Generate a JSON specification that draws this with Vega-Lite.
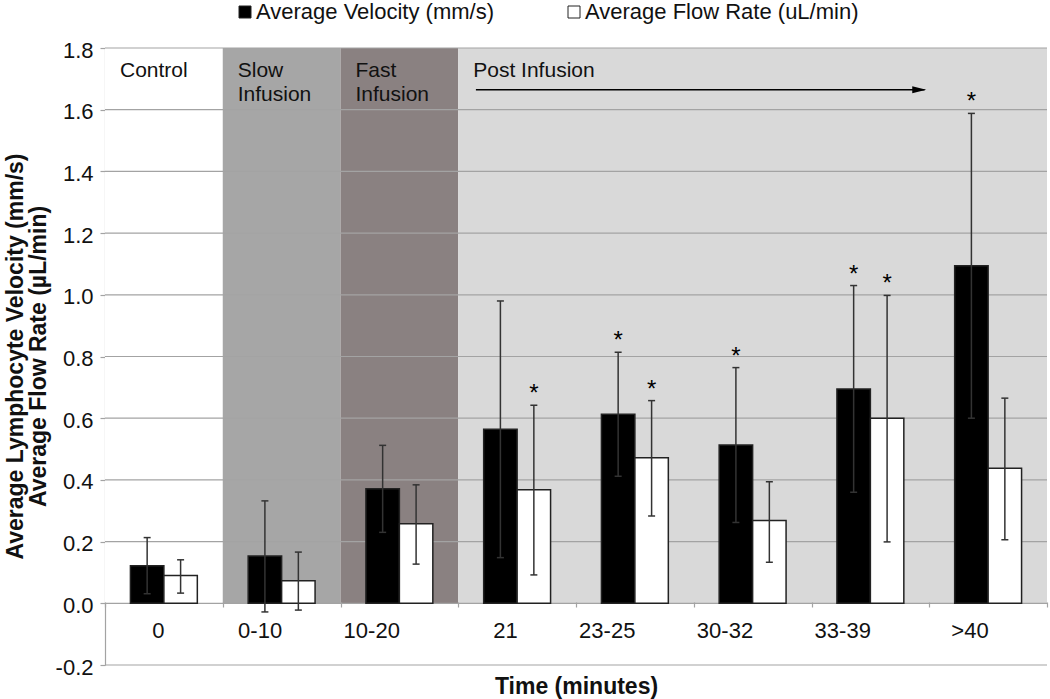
{
  "$schema": "https://vega.github.io/schema/vega-lite/v6.json",
  "width": 942,
  "height": 617,
  "autosize": {"type": "none"},
  "padding": {"left": 105, "top": 48, "right": 3, "bottom": 34},
  "background": "white",
  "config": {
    "font": "Liberation Sans",
    "view": {"stroke": null},
    "axis": {"labelColor": "#111111", "titleColor": "#111111"}
  },
  "datasets": {
    "bars": [
      {"time": "0", "series": "Average Velocity (mm/s)", "mean": 0.122, "lower": 0.031, "upper": 0.213, "star": 0},
      {"time": "0", "series": "Average Flow Rate (uL/min)", "mean": 0.090, "lower": 0.033, "upper": 0.141, "star": 0},
      {"time": "0-10", "series": "Average Velocity (mm/s)", "mean": 0.153, "lower": -0.028, "upper": 0.332, "star": 0},
      {"time": "0-10", "series": "Average Flow Rate (uL/min)", "mean": 0.073, "lower": -0.022, "upper": 0.166, "star": 0},
      {"time": "10-20", "series": "Average Velocity (mm/s)", "mean": 0.371, "lower": 0.230, "upper": 0.512, "star": 0},
      {"time": "10-20", "series": "Average Flow Rate (uL/min)", "mean": 0.258, "lower": 0.127, "upper": 0.384, "star": 0},
      {"time": "21", "series": "Average Velocity (mm/s)", "mean": 0.564, "lower": 0.148, "upper": 0.980, "star": 0},
      {"time": "21", "series": "Average Flow Rate (uL/min)", "mean": 0.368, "lower": 0.092, "upper": 0.642, "star": 1},
      {"time": "23-25", "series": "Average Velocity (mm/s)", "mean": 0.613, "lower": 0.412, "upper": 0.814, "star": 1},
      {"time": "23-25", "series": "Average Flow Rate (uL/min)", "mean": 0.472, "lower": 0.283, "upper": 0.657, "star": 1},
      {"time": "30-32", "series": "Average Velocity (mm/s)", "mean": 0.513, "lower": 0.262, "upper": 0.764, "star": 1},
      {"time": "30-32", "series": "Average Flow Rate (uL/min)", "mean": 0.268, "lower": 0.133, "upper": 0.394, "star": 0},
      {"time": "33-39", "series": "Average Velocity (mm/s)", "mean": 0.695, "lower": 0.360, "upper": 1.030, "star": 1},
      {"time": "33-39", "series": "Average Flow Rate (uL/min)", "mean": 0.600, "lower": 0.199, "upper": 0.998, "star": 1},
      {"time": ">40", "series": "Average Velocity (mm/s)", "mean": 1.094, "lower": 0.600, "upper": 1.588, "star": 1},
      {"time": ">40", "series": "Average Flow Rate (uL/min)", "mean": 0.438, "lower": 0.206, "upper": 0.665, "star": 0}
    ],
    "phases": [
      {"start": "0", "end": "0", "phase": "Control"},
      {"start": "0-10", "end": "0-10", "phase": "Slow Infusion"},
      {"start": "10-20", "end": "10-20", "phase": "Fast Infusion"},
      {"start": "21", "end": ">40", "phase": "Post Infusion"}
    ],
    "labels": [
      {"time": "0", "label": ["Control"]},
      {"time": "0-10", "label": ["Slow", "Infusion"]},
      {"time": "10-20", "label": ["Fast", "Infusion"]},
      {"time": "21", "label": ["Post Infusion"]}
    ],
    "grid": [
      {"v": -0.2}, {"v": 0.0}, {"v": 0.2}, {"v": 0.4}, {"v": 0.6}, {"v": 0.8},
      {"v": 1.0}, {"v": 1.2}, {"v": 1.4}, {"v": 1.6}, {"v": 1.8}
    ],
    "arrow": [
      {"start": "21", "end": "33-39", "y": 1.665}
    ]
  },
  "layer": [
    {
      "data": {"name": "phases"},
      "mark": {"type": "rect"},
      "encoding": {
        "x": {"field": "start", "type": "nominal", "bandPosition": 0, "scale": {"domain": ["0", "0-10", "10-20", "21", "23-25", "30-32", "33-39", ">40"], "paddingInner": 0, "paddingOuter": 0}},
        "x2": {"field": "end", "bandPosition": 1},
        "y": {"datum": 1.8, "type": "quantitative", "scale": {"domain": [-0.2, 1.8], "nice": false, "zero": false}},
        "y2": {"datum": 0},
        "color": {"field": "phase", "type": "nominal", "scale": {"domain": ["Control", "Slow Infusion", "Fast Infusion", "Post Infusion"], "range": ["#ffffff", "#a6a6a6", "#8a8181", "#d9d9d9"]}, "legend": null}
      }
    },
    {
      "data": {"name": "grid"},
      "mark": {"type": "rule", "color": "#a3a3a3", "strokeWidth": 1.2},
      "encoding": {
        "y": {
          "field": "v", "type": "quantitative",
          "scale": {"domain": [-0.2, 1.8], "nice": false, "zero": false},
          "axis": {
            "title": ["Average Lymphocyte Velocity (mm/s)", "Average Flow Rate (µL/min)"],
            "values": [-0.2, 0, 0.2, 0.4, 0.6, 0.8, 1.0, 1.2, 1.4, 1.6, 1.8],
            "format": ".1f",
            "labelExpr": "replace(datum.label, '\u2212', '-')",
            "grid": false,
            "domainColor": "#a3a3a3",
            "domainWidth": 1.2,
            "tickColor": "#a3a3a3",
            "tickSize": 5,
            "tickWidth": 1.2,
            "labelFontSize": 22,
            "labelPadding": 7,
            "labelOffset": 2,
            "titleFontSize": 23,
            "titleFontWeight": "bold",
            "titleAngle": -90,
            "titleAlign": "center",
            "titleBaseline": "alphabetic",
            "titleLineHeight": 23,
            "titleX": -83,
            "titleY": 308
          }
        }
      }
    },
    {
      "data": {"name": "labels"},
      "mark": {"type": "text", "align": "left", "baseline": "top", "dx": 15, "dy": 12, "fontSize": 21, "lineHeight": 24, "color": "#111111"},
      "encoding": {
        "x": {"field": "time", "type": "nominal", "bandPosition": 0},
        "y": {"datum": 1.8, "type": "quantitative"},
        "text": {"field": "label"}
      }
    },
    {
      "data": {"name": "arrow"},
      "mark": {"type": "rule", "color": "#000000", "strokeWidth": 1.5},
      "encoding": {
        "x": {"field": "start", "type": "nominal", "bandPosition": 0.15},
        "x2": {"field": "end", "bandPosition": 0.96},
        "y": {"field": "y", "type": "quantitative"}
      }
    },
    {
      "data": {"name": "arrow"},
      "mark": {"type": "point", "shape": "M-1,-0.5L1,0L-1,0.5Z", "filled": true, "color": "#000000", "opacity": 1, "size": 196},
      "encoding": {
        "x": {"field": "end", "type": "nominal", "bandPosition": 0.915},
        "y": {"field": "y", "type": "quantitative"}
      }
    },
    {
      "data": {"name": "bars"},
      "mark": {"type": "bar", "stroke": "#222222", "strokeWidth": 1.5},
      "encoding": {
        "x": {
          "field": "time", "type": "nominal",
          "axis": {
            "title": "Time (minutes)",
            "orient": "bottom",
            "offset": -63,
            "labelAngle": 0,
            "domain": false,
            "tickBand": "extent",
            "tickColor": "#a3a3a3",
            "tickSize": 5,
            "tickWidth": 1.2,
            "labelFontSize": 22,
            "labelPadding": 23,
            "titleFontSize": 23,
            "titleFontWeight": "bold",
            "titleBaseline": "middle",
            "titleY": 84
          }
        },
        "xOffset": {"field": "series", "type": "nominal", "sort": ["Average Velocity (mm/s)", "Average Flow Rate (uL/min)"], "scale": {"paddingInner": 0, "paddingOuter": 0.76}},
        "y": {"field": "mean", "type": "quantitative"},
        "color": {
          "field": "series", "type": "nominal",
          "scale": {"domain": ["Average Velocity (mm/s)", "Average Flow Rate (uL/min)"], "range": ["#000000", "#ffffff"]},
          "legend": {
            "title": null,
            "orient": "none",
            "direction": "horizontal",
            "legendX": 129,
            "legendY": -47,
            "symbolType": "square",
            "symbolSize": 144,
            "symbolStrokeColor": "#222222",
            "symbolStrokeWidth": 1,
            "labelFontSize": 22,
            "labelOffset": 0,
            "labelLimit": 400,
            "labelColor": "#111111",
            "columnPadding": 68
          }
        }
      }
    },
    {
      "data": {"name": "bars"},
      "mark": {"type": "rule", "color": "#333333", "strokeWidth": 1.5},
      "encoding": {
        "x": {"field": "time", "type": "nominal"},
        "xOffset": {"field": "series", "type": "nominal", "sort": ["Average Velocity (mm/s)", "Average Flow Rate (uL/min)"]},
        "y": {"field": "lower", "type": "quantitative"},
        "y2": {"field": "upper"}
      }
    },
    {
      "data": {"name": "bars"},
      "mark": {"type": "tick", "orient": "horizontal", "size": 7, "thickness": 1.5, "color": "#333333", "opacity": 1},
      "encoding": {
        "x": {"field": "time", "type": "nominal"},
        "xOffset": {"field": "series", "type": "nominal", "sort": ["Average Velocity (mm/s)", "Average Flow Rate (uL/min)"]},
        "y": {"field": "upper", "type": "quantitative"}
      }
    },
    {
      "data": {"name": "bars"},
      "mark": {"type": "tick", "orient": "horizontal", "size": 7, "thickness": 1.5, "color": "#333333", "opacity": 1},
      "encoding": {
        "x": {"field": "time", "type": "nominal"},
        "xOffset": {"field": "series", "type": "nominal", "sort": ["Average Velocity (mm/s)", "Average Flow Rate (uL/min)"]},
        "y": {"field": "lower", "type": "quantitative"}
      }
    },
    {
      "data": {"name": "bars"},
      "transform": [{"filter": "datum.star == 1"}],
      "mark": {"type": "text", "text": "*", "fontSize": 24, "baseline": "alphabetic", "dy": -4, "color": "#000000"},
      "encoding": {
        "x": {"field": "time", "type": "nominal"},
        "xOffset": {"field": "series", "type": "nominal", "sort": ["Average Velocity (mm/s)", "Average Flow Rate (uL/min)"]},
        "y": {"field": "upper", "type": "quantitative"}
      }
    }
  ],
  "resolve": {"scale": {"color": "independent"}}
}
